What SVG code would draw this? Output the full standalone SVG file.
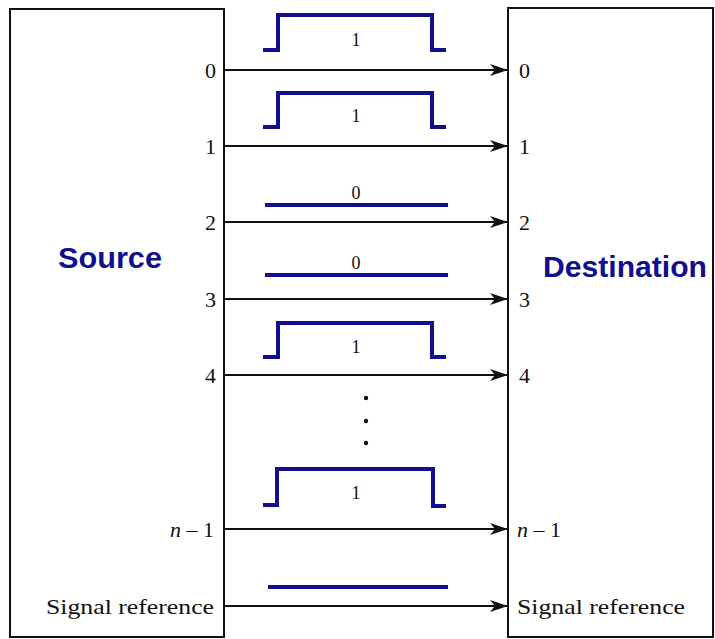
<svg xmlns="http://www.w3.org/2000/svg" width="715" height="639" viewBox="0 0 715 639">
<style>
.box{fill:#fff;stroke:#111;stroke-width:2}
.wire{stroke:#111;stroke-width:2;fill:none}
.pulse{stroke:#10108f;stroke-width:4;fill:none}
.lbl{font-family:"Liberation Serif","Times New Roman",serif;font-size:22px;fill:#111}
.plbl{font-family:"Liberation Serif","Times New Roman",serif;font-size:18px;fill:#111;text-anchor:middle}
.title{font-family:"Liberation Sans",Arial,sans-serif;font-weight:bold;font-size:30px;fill:#10108f}
</style>
<defs>
<marker id="ah" markerWidth="18" markerHeight="12" refX="18" refY="6" orient="auto" markerUnits="userSpaceOnUse">
<path d="M0,0 L18,6 L0,12 L5,6 Z" fill="#111"/>
</marker>
</defs>
<rect width="715" height="639" fill="#fff"/>
<g id="source">
<rect class="box" x="10" y="9" width="214" height="628"/>
<text class="title" x="58" y="268" textLength="104" lengthAdjust="spacingAndGlyphs">Source</text>
<g class="lbl" text-anchor="end">
<text x="216" y="78">0</text>
<text x="216" y="154">1</text>
<text x="216" y="230">2</text>
<text x="216" y="307">3</text>
<text x="216" y="383">4</text>
<text x="214" y="537"><tspan font-style="italic">n</tspan> – 1</text>
<text x="214" y="614" textLength="168" lengthAdjust="spacingAndGlyphs">Signal reference</text>
</g>
</g>
<g id="destination">
<rect class="box" x="508" y="8" width="205" height="629"/>
<text class="title" x="543" y="277" textLength="164" lengthAdjust="spacingAndGlyphs">Destination</text>
<g class="lbl">
<text x="519" y="78">0</text>
<text x="519" y="154">1</text>
<text x="519" y="230">2</text>
<text x="519" y="307">3</text>
<text x="519" y="383">4</text>
<text x="517" y="537"><tspan font-style="italic">n</tspan> – 1</text>
<text x="517" y="614" textLength="168" lengthAdjust="spacingAndGlyphs">Signal reference</text>
</g>
</g>
<g id="connectors">
<line class="wire" x1="224" y1="70" x2="508" y2="70" marker-end="url(#ah)"/>
<line class="wire" x1="224" y1="146" x2="508" y2="146" marker-end="url(#ah)"/>
<line class="wire" x1="224" y1="222" x2="508" y2="222" marker-end="url(#ah)"/>
<line class="wire" x1="224" y1="299" x2="508" y2="299" marker-end="url(#ah)"/>
<line class="wire" x1="224" y1="375" x2="508" y2="375" marker-end="url(#ah)"/>
<line class="wire" x1="224" y1="529" x2="508" y2="529" marker-end="url(#ah)"/>
<line class="wire" x1="224" y1="606" x2="508" y2="606" marker-end="url(#ah)"/>
</g>
<g id="signals">
<path class="pulse" d="M263,50 H278 V15 H432 V50 H446"/>
<text class="plbl" x="356" y="46">1</text>
<path class="pulse" d="M263,127 H278 V93 H432 V127 H446"/>
<text class="plbl" x="356" y="122">1</text>
<line class="pulse" x1="265" y1="205" x2="448" y2="205"/>
<text class="plbl" x="356" y="199">0</text>
<line class="pulse" x1="265" y1="275" x2="448" y2="275"/>
<text class="plbl" x="356" y="269">0</text>
<path class="pulse" d="M263,357 H278 V323 H432 V357 H446"/>
<text class="plbl" x="356" y="353">1</text>
<path class="pulse" d="M263,505 H277 V469 H433 V506 H446"/>
<text class="plbl" x="356" y="499">1</text>
<line class="pulse" x1="268" y1="587" x2="448" y2="587"/>
<circle cx="366" cy="398" r="2.2" fill="#111"/>
<circle cx="366" cy="421" r="2.2" fill="#111"/>
<circle cx="366" cy="443" r="2.2" fill="#111"/>
</g>
</svg>
